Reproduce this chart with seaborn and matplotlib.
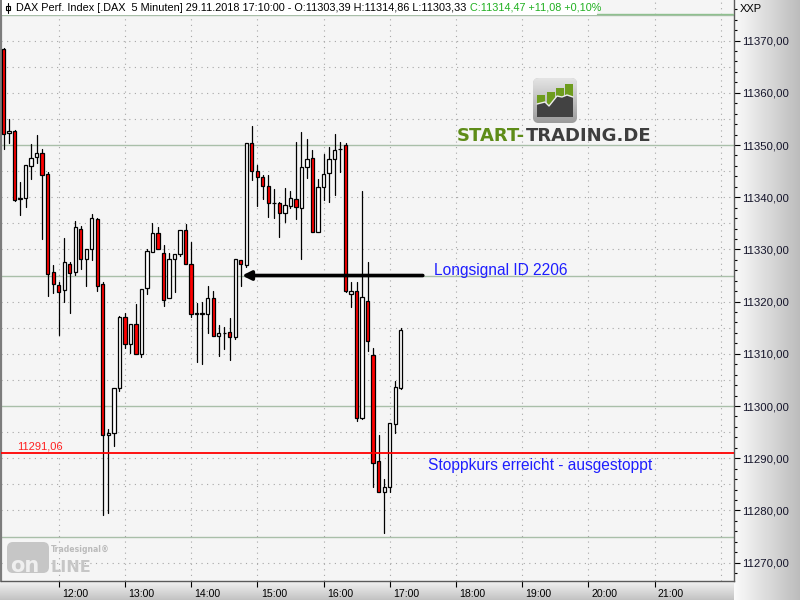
import numpy as np
import pandas as pd
import matplotlib
matplotlib.use("Agg")
import matplotlib.pyplot as plt
import matplotlib.patches as mpatches
import matplotlib.transforms as mtrans
from matplotlib.colors import LinearSegmentedColormap
import seaborn as sns

# ---------------- data ----------------
first_bar = "2018-11-29 11:10"
opens = [11368.3, 11352.3, 11352.6, 11339.6, 11339.8, 11345.9, 11347.7, 11348.4, 11344.4, 11325.6,
         11323.2, 11322.2, 11327.3, 11325.6, 11334.0, 11328.2, 11330.0, 11335.8, 11323.4, 11294.4,
         11294.8, 11303.4, 11317.0, 11311.8, 11315.8, 11309.9, 11322.7, 11329.6, 11333.1, 11329.4,
         11320.6, 11328.2, 11329.1, 11333.8, 11327.3, 11317.6, 11317.7, 11317.6, 11320.6, 11313.5,
         11313.9, 11314.1, 11313.2, 11327.9, 11327.0, 11350.3, 11345.1, 11343.9, 11342.2, 11338.9,
         11338.8, 11336.9, 11338.3, 11339.6, 11338.0, 11345.8, 11347.6, 11333.3, 11341.9, 11344.6,
         11347.3, 11349.2, 11350.0, 11321.4, 11322.0, 11297.8, 11320.1, 11309.7, 11289.5, 11283.5,
         11284.5, 11296.5, 11303.39]
highs = [11368.6, 11354.9, 11352.8, 11343.0, 11346.1, 11350.2, 11351.9, 11349.2, 11344.8, 11327.1,
         11323.8, 11332.1, 11327.5, 11335.4, 11334.5, 11330.0, 11336.8, 11336.0, 11323.8, 11295.6,
         11303.4, 11317.2, 11317.9, 11315.8, 11319.5, 11322.5, 11330.1, 11335.0, 11334.3, 11330.8,
         11329.3, 11329.1, 11333.8, 11334.8, 11331.4, 11319.7, 11320.0, 11323.0, 11322.0, 11315.5,
         11315.2, 11316.8, 11328.1, 11328.0, 11350.3, 11353.6, 11346.2, 11344.3, 11344.2, 11341.5,
         11339.0, 11341.7, 11341.2, 11350.5, 11352.4, 11351.1, 11349.0, 11343.5, 11348.3, 11349.6,
         11352.2, 11350.5, 11350.4, 11323.8, 11323.8, 11341.1, 11327.5, 11311.1, 11294.4, 11286.1,
         11296.7, 11304.8, 11314.86]
lows = [11349.2, 11350.4, 11339.2, 11336.5, 11338.1, 11343.4, 11346.5, 11331.9, 11321.1, 11321.6,
        11313.6, 11320.0, 11317.8, 11325.1, 11326.2, 11322.9, 11328.0, 11322.1, 11279.1, 11279.6,
        11292.4, 11302.9, 11311.2, 11310.1, 11309.9, 11309.3, 11321.4, 11329.6, 11330.1, 11319.2,
        11320.6, 11321.8, 11328.7, 11327.3, 11317.0, 11308.5, 11308.0, 11314.0, 11313.5, 11309.6,
        11311.0, 11308.8, 11312.8, 11323.0, 11326.7, 11343.3, 11338.3, 11339.7, 11336.2, 11336.1,
        11332.3, 11335.3, 11338.0, 11335.8, 11328.2, 11343.7, 11333.3, 11333.3, 11339.5, 11339.1,
        11340.4, 11344.9, 11321.8, 11318.9, 11297.2, 11297.6, 11310.6, 11284.4, 11283.5, 11275.7,
        11283.6, 11294.8, 11303.33]
closes = [11352.2, 11352.7, 11339.5, 11339.8, 11346.1, 11347.6, 11348.4, 11344.2, 11325.2, 11323.4,
          11321.8, 11327.5, 11325.4, 11334.2, 11328.2, 11330.0, 11336.0, 11323.0, 11294.4, 11294.8,
          11303.4, 11317.0, 11311.9, 11315.8, 11309.9, 11322.5, 11329.7, 11333.1, 11330.1, 11320.4,
          11328.1, 11329.1, 11333.8, 11327.3, 11317.6, 11317.8, 11317.8, 11320.6, 11313.5, 11313.9,
          11314.0, 11313.2, 11328.1, 11327.3, 11350.3, 11345.1, 11343.9, 11342.2, 11338.8, 11338.8,
          11336.9, 11338.6, 11339.8, 11338.2, 11345.7, 11347.4, 11333.3, 11342.0, 11344.4, 11347.3,
          11349.0, 11349.3, 11322.1, 11322.0, 11297.8, 11320.8, 11312.5, 11289.0, 11283.5, 11284.4,
          11296.7, 11303.6, 11314.47]
hour_ticks = [12, 13, 14, 15, 16, 17, 18, 19, 20, 21]
hour_labels = ["12:00", "13:00", "14:00", "15:00", "16:00", "17:00", "18:00", "19:00", "20:00", "21:00"]
y_ticks = [11270, 11280, 11290, 11300, 11310, 11320, 11330, 11340, 11350, 11360, 11370]
stop_level = 11291.06
signal_level = 11325.0
signal_time = 14.77      # arrow tip (hours)
arrow_start = 17.5       # arrow tail (hours)
header_black = "DAX Perf. Index [.DAX  5 Minuten] 29.11.2018 17:10:00 - O:11303,39 H:11314,86 L:11303,33"
header_green = "C:11314,47 +11,08 +0,10%"

# ---------------- frame ----------------
times = pd.date_range(first_bar, periods=len(opens), freq="5min")
hours = times.hour + times.minute / 60.0
df = pd.DataFrame({"t": hours, "open": opens, "high": highs, "low": lows, "close": closes})
df["up"] = df["close"] >= df["open"]
df["body_lo"] = np.minimum(df["open"], df["close"])
df["body_h"] = np.maximum((df["close"] - df["open"]).abs(), 0.05)
df["id"] = np.arange(len(df))
wicks = pd.concat([
    df[["t", "id"]].assign(price=df["low"]),
    df[["t", "id"]].assign(price=df["high"]),
]).sort_values(["id", "price"])

sns.set_theme(style="white")
plt.rcParams["font.family"] = ["Liberation Sans", "DejaVu Sans"]

W, H = 800, 600
fig = plt.figure(figsize=(8, 6), dpi=100)
fig.patch.set_facecolor("#F4F4F4")

# gradient strips (right axis area and bottom axis area)
rs = fig.add_axes([734 / W, 0, 66 / W, 1], zorder=0)
rs.imshow(np.linspace(0, 1, 256).reshape(1, -1), aspect="auto",
          cmap=LinearSegmentedColormap.from_list("r", ["#FBFBFB", "#BCBCBC"]), extent=[0, 1, 0, 1])
rs.axis("off")
bs = fig.add_axes([0, 0, 734 / W, 19 / H], zorder=0)
bs.imshow(np.linspace(0, 1, 64).reshape(-1, 1), aspect="auto",
          cmap=LinearSegmentedColormap.from_list("b", ["#F3F3F3", "#C2C2C2"]), extent=[0, 1, 0, 1])
bs.axis("off")

ax = fig.add_axes([1 / W, 19 / H, 733 / W, 581 / H], zorder=2)
ax.set_facecolor("#F5F5F5")

# grid
for v in range(11265, 11380, 5):
    if v % 25 == 0:
        ax.axhline(v, color="#A9BFA9", lw=1.0, zorder=1)
    else:
        ax.axhline(v, color="#A6A6A6", lw=0.8, ls=(0, (1, 4)), zorder=1)
for hh in hour_ticks + [22]:
    ax.axvline(hh, color="#A6A6A6", lw=0.8, ls=(0, (1, 4)), zorder=1)

# candles: wicks then bodies
sns.lineplot(data=wicks, x="t", y="price", units="id", estimator=None, sort=False,
             color="black", lw=0.9, ax=ax, legend=False, zorder=3)
for up, fc in [(False, "#FF0000"), (True, "#FFFFFF")]:
    sub = df[df["up"] == up]
    sns.barplot(data=sub, x="t", y="body_h", native_scale=True, orient="x", width=0.6,
                bottom=sub["body_lo"].values, color=fc, saturation=1, edgecolor="black",
                linewidth=0.9, errorbar=None, ax=ax, zorder=4)

# stop line and annotations
ax.axhline(stop_level, color="#FF0000", lw=1.3, zorder=5)
ax.text(11.37, stop_level + 1.25, "11291,06", color="#FF2020", fontsize=8, ha="left", va="center", zorder=6)
ax.annotate("", xy=(signal_time, signal_level), xytext=(arrow_start, signal_level),
            arrowprops=dict(arrowstyle="-|>", color="black", lw=2.6, mutation_scale=13,
                            shrinkA=0, shrinkB=0), zorder=6)
ax.text(17.669, signal_level + 0.9, "Longsignal ID 2206", color="#1E1EFF", fontsize=11.2,
        ha="left", va="center", zorder=6)
ax.text(17.578, 11288.7, "Stoppkurs erreicht - ausgestoppt", color="#1E1EFF", fontsize=11.2,
        ha="left", va="center", zorder=6)

# limits
ax.set_xlim(11.1284, 22.2009)
ax.set_ylim(11266.48, 11377.78)
ax.set_xlabel("")
ax.set_ylabel("")

# axes ticks
ax.yaxis.tick_right()
ax.set_yticks(y_ticks, [f"{v:.2f}".replace(".", ",") for v in y_ticks])
ax.set_yticks(np.arange(11268, 11378, 2), minor=True)
ax.tick_params(axis="y", which="major", direction="out", length=4, width=0.8, pad=2,
               labelsize=8.2, colors="black", labelcolor="#14142A", right=True, left=False)
ax.tick_params(axis="y", which="minor", direction="out", length=2, width=0.8, colors="black",
               right=True, left=False)
ax.set_xticks(hour_ticks, hour_labels)
ax.tick_params(axis="x", which="major", direction="out", length=4, width=0.8, pad=1.5,
               labelsize=7.6, colors="black", bottom=True)
offset = mtrans.ScaledTranslation(2.5 / 72, 0, fig.dpi_scale_trans)
for lab in ax.get_xticklabels():
    lab.set_horizontalalignment("left")
    lab.set_transform(lab.get_transform() + offset)

ax.spines["top"].set_visible(False)
ax.spines["left"].set_color("#7C7C7C")
ax.spines["left"].set_linewidth(1.6)
ax.spines["right"].set_color("#5A5A5A")
ax.spines["right"].set_linewidth(1.0)
ax.spines["bottom"].set_color("#5A5A5A")
ax.spines["bottom"].set_linewidth(1.0)

# ---------------- overlay decorations (pixel coordinates) ----------------
ov = fig.add_axes([0, 0, 1, 1], zorder=5)
ov.patch.set_alpha(0)
ov.axis("off")
ov.set_xlim(0, W)
ov.set_ylim(H, 0)

# header
ov.add_patch(mpatches.Rectangle((2, 0), 595, 14.5, fc="white", ec="none"))
ov.plot([597, 733], [13.5, 13.5], color="#8FC08F", lw=1)
ov.plot([7.5, 7.5], [3, 13], color="black", lw=0.8)
ov.add_patch(mpatches.Rectangle((5.5, 5.5), 4, 4.5, fc="white", ec="black", lw=0.8))
tb = ov.text(16, 8, header_black, fontsize=7.8, color="black", ha="left", va="center")
ov.text(740, 9, "XXP", fontsize=8, color="black", ha="left", va="center")

# START-TRADING.DE logo
box = mpatches.FancyBboxPatch((533, 78), 44, 45, boxstyle="round,pad=0,rounding_size=6",
                              fc="#BEBEBE", ec="none")
ov.add_patch(box)
im = ov.imshow(np.linspace(0, 1, 64).reshape(-1, 1), aspect="auto", extent=[533, 577, 123, 78],
               cmap=LinearSegmentedColormap.from_list("lg", ["#E4E4E4", "#9C9C9C"]), zorder=1)
im.set_clip_path(box)
for bx, by in [(537, 95), (547, 91.7), (556, 88), (565, 84)]:
    ov.add_patch(mpatches.Rectangle((bx, by), 8, 112 - by, fc="#6E9C1E", ec="none", zorder=2))
top_pts = [(537, 104), (545, 102), (549, 106), (557, 96), (562, 97), (567, 95), (573, 97)]
poly = [(537, 117)] + top_pts + [(573, 117)]
ov.add_patch(mpatches.Polygon(poly, closed=True, fc="#424242", ec="none", zorder=3))
ov.plot([p[0] for p in top_pts], [p[1] for p in top_pts], color="#EDEDED", lw=1.0, zorder=4)
ov.set_xlim(0, W)
ov.set_ylim(H, 0)

renderer = fig.canvas.get_renderer()
pix_x = mtrans.blended_transform_factory(mtrans.IdentityTransform(), ov.transData)
bbh = tb.get_window_extent(renderer=renderer)
ov.text(bbh.x1 + 4, 8, header_green, fontsize=7.8, color="#20B020", ha="left", va="center",
        transform=pix_x)

t1 = ov.text(457, 136, "START-", fontsize=13, fontweight="bold", family="DejaVu Sans",
             color="#5E8C18", ha="left", va="center")
bb = t1.get_window_extent(renderer=renderer)
ov.text(bb.x1 + 1, 136, "TRADING.DE", fontsize=13, fontweight="bold", family="DejaVu Sans",
        color="#3E3E3E", ha="left", va="center", transform=pix_x)

# Tradesignal online logo
ov.add_patch(mpatches.FancyBboxPatch((7, 542), 42, 31, boxstyle="round,pad=0,rounding_size=6",
                                     fc="#C6C6C6", ec="none"))
ov.text(10, 565.5, "on", fontsize=15, fontweight="bold", family="DejaVu Sans",
        color="#EFEFEF", ha="left", va="center")
ov.text(50, 567, "LINE", fontsize=11.5, fontweight="bold", family="DejaVu Sans",
        color="#C6C6C6", ha="left", va="center")
ov.text(51, 550, "Tradesignal\u00ae", fontsize=5.6, fontweight="bold", family="DejaVu Sans",
        color="#BBBBBB", ha="left", va="center")

fig.savefig("out.png", dpi=100, facecolor=fig.get_facecolor())
